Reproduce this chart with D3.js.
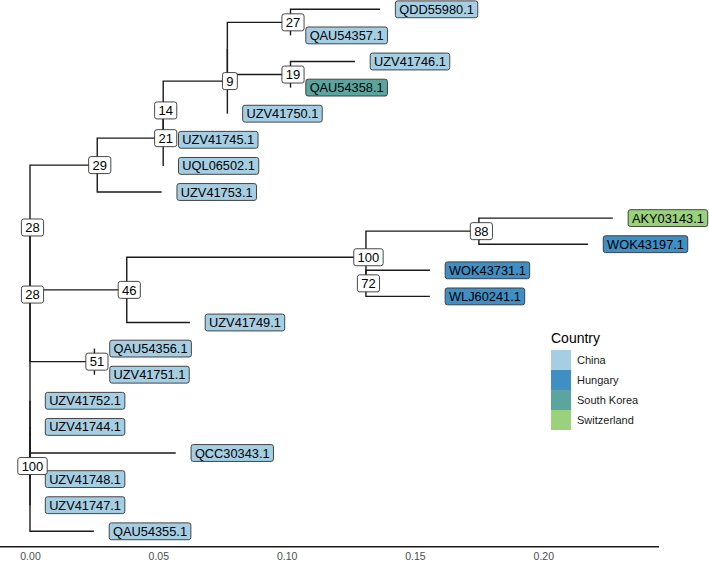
<!DOCTYPE html>
<html><head><meta charset="utf-8">
<script src="https://cdn.jsdelivr.net/npm/d3@7"></script>
<style>body{margin:0;background:#fff}svg{display:block;font-family:"Liberation Sans",Arial,sans-serif}</style>
</head><body><svg id="chart" width="709" height="561"></svg>
<script>
// Tree: node ids, parents, branch lengths, support labels (same order)
const nodeIds = ["R","X2","X1","n29","n21","n14","n9","nX","n27","QDD55980.1","QAU54357.1","n19","UZV41746.1","QAU54358.1","UZV41750.1","UZV41745.1","UQL06502.1","UZV41753.1","n46","n100b","n88","AKY03143.1","WOK43197.1","n72","WOK43731.1","WLJ60241.1","UZV41749.1","n51","QAU54356.1","UZV41751.1","UZV41752.1","UZV41744.1","n100a","QCC30343.1","UZV41748.1","UZV41747.1","QAU54355.1"];
const nodeParents = ["","R","X2","X1","n29","n21","n14","n9","nX","n27","n27","nX","n19","n19","n9","n14","n21","n29","X1","n46","n100b","n88","n88","n100b","n72","n72","n46","X2","n51","n51","R","R","R","n100a","n100a","R","R"];
const branchLengths = [0,0,0,0.0262,0.0257,0,0.0250,0,0.0246,0.0349,0,0.0246,0.0251,0,0,0,0,0.0251,0.0377,0.0932,0.0440,0.0522,0.0425,0,0.0249,0.0249,0.0246,0.0251,0,0,0,0,0,0.0568,0,0,0.0249];
const supportLabels = ["","28","28","29","21","14","9","","27","","","19","","","","","","","46","100","88","","","72","","","","51","","","","","100","","","",""];
// Tip countries
const tipNames = ["QDD55980.1","QAU54357.1","UZV41746.1","QAU54358.1","UZV41750.1","UZV41745.1","UQL06502.1","UZV41753.1","AKY03143.1","WOK43197.1","WOK43731.1","WLJ60241.1","UZV41749.1","QAU54356.1","UZV41751.1","UZV41752.1","UZV41744.1","QCC30343.1","UZV41748.1","UZV41747.1","QAU54355.1"];
const tipCountries = ["China","China","China","South Korea","China","China","China","China","Switzerland","Hungary","Hungary","Hungary","China","China","China","China","China","China","China","China","China"];
const countries = ["China","Hungary","South Korea","Switzerland"];
const countryColors = ["#a6cee3","#3f8fc5","#5ca59f","#99d27a"];
const xTicks = [0,0.05,0.10,0.15,0.20];

const svg = d3.select("#chart");
const x = d3.scaleLinear().domain([0,0.2]).range([30,543.3]);
const y = d3.scaleLinear().domain([0,20]).range([9.3,531.3]);
const color = d3.scaleOrdinal().domain(countries).range(countryColors);
const countryOf = new Map(tipNames.map((n,i)=>[n,tipCountries[i]]));

const table = nodeIds.map((id,i)=>({id, parent: nodeParents[i]||null, len: branchLengths[i], support: supportLabels[i]}));
const root = d3.stratify().id(d=>d.id).parentId(d=>d.parent)(table);
root.each(d=>{ d.depthLen = d.parent ? d.parent.depthLen + d.data.len : 0; });
root.leaves().forEach((l,i)=>{ l.yi = i; });
root.eachAfter(d=>{ if(d.children) d.yi = d3.mean(d.children, c=>c.yi); });

const g = svg.append("g");
// axis
const axisY = 546.7;
svg.append("line").attr("x1",0).attr("x2",659).attr("y1",axisY).attr("y2",axisY)
  .attr("stroke","#1a1a1a").attr("stroke-width",1.4);
const ax = svg.append("g").attr("transform",`translate(0,${axisY})`)
  .call(d3.axisBottom(x).tickValues(xTicks).tickFormat(d3.format(".2f")).tickSize(0).tickPadding(6.3));
ax.select(".domain").remove();
ax.selectAll("text").attr("fill","#4d4d4d").attr("font-size",10.5).attr("font-family","Liberation Sans, Arial, sans-serif");

// edges
g.selectAll("path.edge").data(root.descendants().filter(d=>d.parent)).join("path")
  .attr("class","edge")
  .attr("d",d=>`M${x(d.parent.depthLen)},${y(d.parent.yi)}V${y(d.yi)}H${x(d.depthLen)}`)
  .attr("fill","none").attr("stroke","#1a1a1a").attr("stroke-width",1.4);

const pad = 3.84;
// tip labels
const tfs = 12.8;
const tips = g.selectAll("g.tip").data(root.leaves()).join("g").attr("class","tip");
tips.each(function(d){
  const gg = d3.select(this);
  const bx = x(d.depthLen) + 15.3, cy = y(d.yi);
  const rect = gg.append("rect");
  const t = gg.append("text").attr("x",bx+pad).attr("y",cy+0.358*tfs).attr("font-size",tfs).attr("fill","#000").text(d.id);
  const w = t.node().getComputedTextLength();
  const h = 0.716*tfs + 2*pad;
  rect.attr("x",bx).attr("y",cy-h/2).attr("width",w+2*pad).attr("height",h).attr("rx",2.3)
    .attr("fill",color(countryOf.get(d.id))).attr("stroke","#333").attr("stroke-width",0.9);
});

// node labels
const nfs = 13;
const inner = root.descendants().filter(d=>d.children && d.data.support);
g.selectAll("g.nl").data(inner).join("g").attr("class","nl").each(function(d){
  const gg = d3.select(this);
  const cx = x(d.depthLen) + 2.5, cy = y(d.yi);
  const rect = gg.append("rect");
  const t = gg.append("text").attr("x",cx).attr("y",cy+0.358*nfs).attr("text-anchor","middle").attr("font-size",nfs).attr("fill","#000").text(d.data.support);
  const w = t.node().getComputedTextLength() + 2*pad;
  const h = 0.716*nfs + 2*pad;
  rect.attr("x",cx-w/2).attr("y",cy-h/2).attr("width",w).attr("height",h).attr("rx",2.3)
    .attr("fill","#fff").attr("stroke","#333").attr("stroke-width",0.9);
});

// legend
const lg = svg.append("g");
lg.append("text").attr("x",551).attr("y",343).attr("font-size",14).attr("fill","#000").text("Country");
countries.forEach((c,i)=>{
  lg.append("rect").attr("x",551).attr("y",350+20*i).attr("width",20).attr("height",20).attr("fill",color(c));
  lg.append("text").attr("x",577).attr("y",360+20*i+3.9).attr("font-size",11).attr("fill","#1a1a1a").text(c);
});
</script></body></html>
